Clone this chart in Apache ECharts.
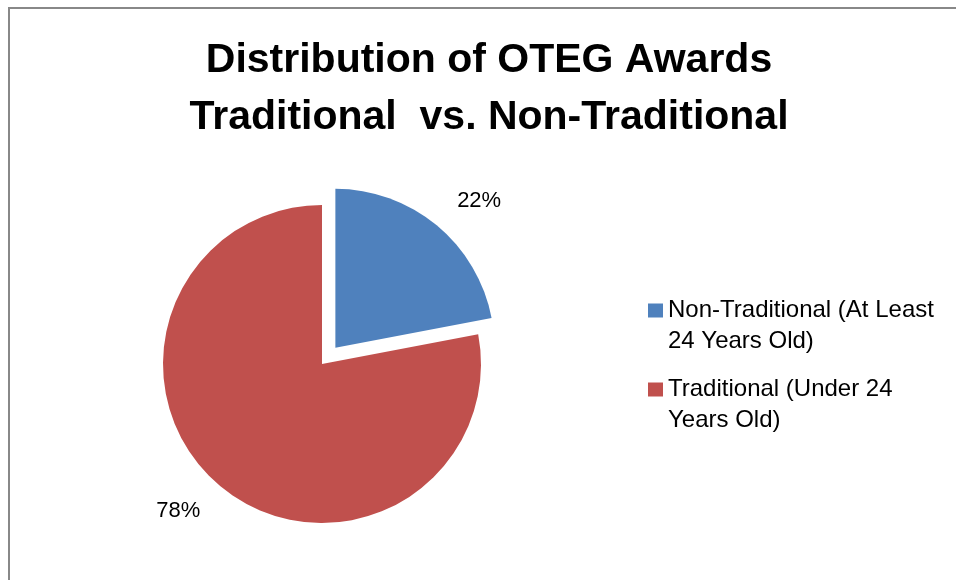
<!DOCTYPE html>
<html>
<head>
<meta charset="utf-8">
<script src="https://cdn.jsdelivr.net/npm/echarts@6/dist/echarts.min.js"></script>
<style>
  html, body { margin: 0; padding: 0; background: #fff; }
  #main { width: 956px; height: 580px; }
</style>
</head>
<body>
<div id="main"></div>
<script>
// 数据
var categories = ['Non-Traditional (At Least 24 Years Old)', 'Traditional (Under 24 Years Old)'];
var legendLabels = ['Non-Traditional (At Least\n24 Years Old)', 'Traditional (Under 24\nYears Old)'];
var shares = [22, 78];
var colors = ['#4F81BD', '#C0504D'];

var myChart = echarts.init(document.getElementById('main'));

var pieData = categories.map(function (name, i) {
	return {
		name: name,
		value: shares[i],
		selected: i === 0,
		itemStyle: { color: colors[i] }
	};
});

var option = {
	animation: false,
	textStyle: { fontFamily: 'Liberation Sans' },
	title: {
		text: 'Distribution of OTEG Awards\nTraditional  vs. Non-Traditional',
		left: 489,
		top: 32,
		padding: 0,
		textAlign: 'center',
		textStyle: {
			fontFamily: 'Liberation Sans',
			fontSize: 41,
			fontWeight: 'bold',
			lineHeight: 57,
			color: '#000'
		}
	},
	legend: {
		orient: 'vertical',
		left: 648,
		top: 264,
		padding: 0,
		itemWidth: 15,
		itemHeight: 14,
		itemGap: -14,
		icon: 'rect',
		selectedMode: false,
		data: categories,
		// 空行放在前面，让方块对齐第一行文字
		formatter: function (name) {
			return '\n' + legendLabels[categories.indexOf(name)];
		},
		textStyle: {
			fontFamily: 'Liberation Sans',
			fontSize: 24,
			lineHeight: 31,
			color: '#000'
		}
	},
	graphic: [{
		type: 'rect',
		shape: { x: 9, y: 8, width: 2000, height: 2000 },
		style: { fill: 'none', stroke: '#888', lineWidth: 2 },
		silent: true
	}],
	series: [{
		type: 'pie',
		center: [322, 364],
		radius: 159,
		startAngle: 90,
		clockwise: true,
		selectedMode: 'single',
		selectedOffset: 21,
		avoidLabelOverlap: false,
		label: {
			show: true,
			position: 'outside',
			formatter: '{d}%',
			fontFamily: 'Liberation Sans',
			fontSize: 22,
			color: '#000',
			distanceToLabelLine: 0
		},
		labelLine: { show: false, length: 32, length2: 0 },
		emphasis: { disabled: true },
		data: pieData
	}]
};

myChart.setOption(option);
</script>
</body>
</html>
